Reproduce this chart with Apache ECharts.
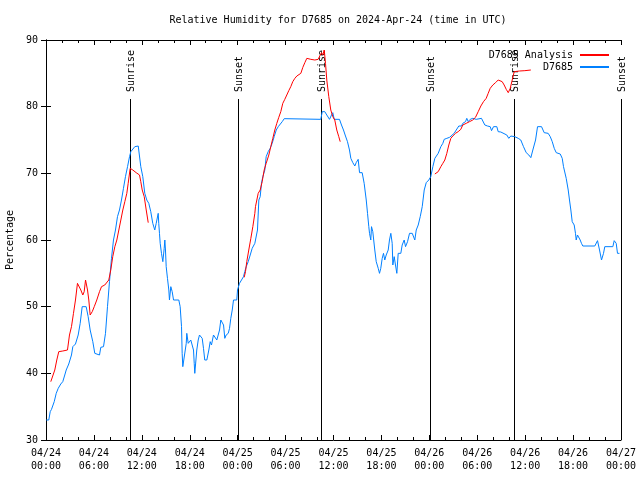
<!DOCTYPE html>
<html>
<head>
<meta charset="utf-8">
<script src="https://cdn.jsdelivr.net/npm/echarts@6/dist/echarts.min.js"></script>
<style>html,body{margin:0;padding:0;background:#fff}#c{width:640px;height:480px}</style>
</head>
<body>
<div id="c"></div>
<script>
// Hours since 2024-04-24 00:00 UTC
const blueHours = [0.03,0.35,0.53,0.69,1.03,1.28,1.53,1.85,2.10,2.35,2.53,2.85,3.19,3.36,3.69,4.03,4.28,4.53,5.03,5.28,5.53,5.86,6.11,6.70,6.86,7.20,7.45,7.70,7.95,8.20,8.45,8.70,8.95,9.20,9.45,9.70,9.95,10.21,10.46,10.62,10.87,11.12,11.55,11.71,11.87,12.12,12.37,12.62,12.87,13.12,13.37,13.62,13.80,14.05,14.12,14.21,14.30,14.46,14.63,14.80,14.88,14.96,15.05,15.21,15.38,15.46,15.63,15.80,15.97,16.63,16.80,16.97,17.05,17.13,17.38,17.56,17.63,17.81,17.97,18.13,18.38,18.47,18.56,18.63,18.72,18.88,19.06,19.22,19.38,19.56,19.72,19.88,20.14,20.39,20.56,20.72,20.97,21.22,21.39,21.56,21.73,21.89,22.06,22.23,22.39,22.56,22.82,22.98,23.14,23.32,23.48,23.89,23.98,24.23,24.48,24.73,24.89,25.07,25.32,25.57,25.82,26.15,26.40,26.48,26.65,26.82,26.98,27.15,27.40,27.57,27.82,28.07,28.32,28.57,28.83,29.08,29.33,29.58,29.83,34.41,34.59,34.91,35.16,35.50,35.75,35.91,36.09,36.75,37.00,37.25,37.50,37.75,38.00,38.17,38.42,38.67,38.84,39.09,39.26,39.59,39.84,40.10,40.26,40.42,40.51,40.67,40.76,40.92,41.17,41.35,41.60,41.76,41.92,42.10,42.26,42.42,42.60,42.85,43.01,43.18,43.35,43.43,43.60,43.76,43.93,44.10,44.43,44.60,44.85,45.02,45.27,45.52,45.86,46.18,46.36,46.61,46.86,47.11,47.36,47.61,47.93,48.18,48.44,48.69,48.94,49.11,49.44,49.69,49.86,50.19,50.53,50.78,51.11,51.37,51.69,52.03,52.19,52.53,52.69,52.87,53.12,53.44,53.87,54.53,54.70,54.95,55.28,55.62,55.79,56.04,56.45,56.62,56.95,57.20,57.70,57.95,58.20,58.45,58.70,59.13,59.45,59.79,60.13,60.46,60.71,60.96,61.30,61.55,62.05,62.38,62.88,63.14,63.39,63.64,63.89,64.39,64.64,64.80,65.14,65.39,65.55,65.72,65.89,66.14,66.30,66.39,66.55,66.72,66.89,67.05,67.22,68.72,69.06,69.31,69.56,69.81,69.97,70.98,71.15,71.40,71.56,71.81];
const blueRH = [33,33,34.25,34.6,35.75,37,37.75,38.4,38.75,39.75,40.5,41.4,42.75,44,44.4,45.75,47.5,50,50,48.5,46.5,44.75,43,42.75,43.9,44,46,50,53.75,57.25,60,61.5,63.5,64.5,66,67.75,69.5,71,72.5,73.25,73.4,74,74.1,74.35,71,69.5,67,66,65.5,64.25,62.5,61.5,62.5,64,62.5,61,59.5,58,56.75,58.75,60,58.5,56,54.25,52.5,51,53,52.25,51,51,50,47,43,41,41,44.5,46,44.5,44.75,45,45,43.5,41.5,40,41.25,43.5,45,45.75,46,45.25,43.75,42,42,43.5,44.75,44.25,45.75,45.5,45,45.25,46.5,48,47.75,47.25,45.25,45.75,46,46.75,48.25,49.5,51,51,52.5,53.5,54,54.5,55.25,56,56.75,57.75,58.75,59.5,59.75,61.5,66,66.5,68.5,69.5,70.5,72.5,73.25,73.75,74.5,75.5,76.5,77,77.25,77.75,78.2,78.1,79.25,79.25,78.75,78.1,78.75,79.1,78.1,78.1,77.25,76.5,75.6,74.75,73.5,72.25,71.6,71.1,71.6,72.1,70.1,70.1,68.5,66,64,62,61,60,62,61.25,58.5,56.75,55.75,55,55.75,57.25,58,57,57.75,58.5,60,61,59.5,56.25,57.5,56.25,55,58,58,59.25,60,59,59.75,61,61,60,61.5,62.25,63.5,65,67.5,68.6,69,69.5,71,72.25,72.25,73,74,74.5,75.1,75.25,75.4,75.6,76,76.5,77.1,77.1,77.5,77.75,78.25,77.75,78.1,78.25,78.1,78.25,78.1,77.25,77.1,77,76.4,77,77,76.25,76.2,76,75.75,75.25,75.6,75.75,75.5,75.25,75,74,73.1,72.75,72.35,73.5,75,77,77,76.1,76,75.5,74.75,73.75,73.1,72.9,72.25,71,69.25,67.5,66,64.5,62.75,62.25,61,60,60.75,61,60,59.5,59.1,59.1,59.9,58.5,57,58,59,59,59.9,59.5,58,58];
// Analysis series (null = gap)
const redHours = [0.60,0.85,1.10,1.35,1.60,2.10,2.69,2.94,3.19,3.44,3.69,3.94,4.11,4.36,4.61,4.78,4.95,5.20,5.36,5.53,5.79,6.04,6.36,6.70,6.95,7.36,7.86,8.11,8.36,8.62,8.87,9.12,9.37,9.62,9.87,10.12,10.29,10.54,10.87,11.29,11.71,11.87,12.05,12.30,12.55,12.80,18.0,
  24.82,24.98,25.14,25.39,25.65,25.90,26.15,26.23,26.57,26.82,27.07,27.32,27.57,27.90,28.15,28.40,28.65,28.90,29.15,29.40,29.65,29.90,30.15,30.40,30.65,30.90,31.16,31.41,31.66,31.91,32.16,32.41,32.66,33.16,33.66,34.08,34.34,34.50,34.66,34.84,35.00,35.16,35.41,35.66,35.91,36.16,36.41,36.66,36.84,42.0,
  48.69,49.11,49.44,49.69,49.94,50.19,50.44,50.69,50.94,51.28,51.61,51.94,52.19,52.62,53.03,53.44,53.78,54.12,54.45,54.78,55.12,55.37,55.62,55.95,56.29,56.62,56.87,57.12,57.37,57.63,57.88,58.13,58.38,58.63,58.88,59.29,59.96,60.71];
const redRH = [38.75,39,40.5,42,43.25,43.35,43.5,45.75,47,49,51,53.5,53.25,52.5,51.75,52.25,54,52.5,51,48.75,49.25,50,51,52.25,53,53.25,54,55.5,57.5,59,60,61.5,63,64.5,65.75,67,68.5,70.75,70.5,70.1,69.75,68.75,67.5,66.5,64.5,62.6,null,
  54.4,55.25,56.75,58.5,60.25,62,64,65,67,67.5,68.75,70.5,71.5,72.75,74,75.25,76.5,77.5,78.4,79.25,80.5,81.1,81.75,82.4,83,83.75,84.25,84.6,84.85,85,85.9,86.6,87.25,87.1,87,87.1,87.75,88.1,87.75,88.5,86.5,84,81.5,79.5,78.5,78,76.5,75.5,74.75,null,
  69.9,70.25,71,71.5,72,73,74.25,75.25,75.6,76,76.25,76.6,77.25,77.5,77.75,78,78.4,79.25,80.1,80.75,81.25,82,82.75,83.25,83.6,84,84.1,83.75,83.25,82.6,82.1,82.75,84,85.25,85.35,85.35,85.4,85.5];
const sunHours = [10.54, 24.0, 34.46, 48.08, 58.62, 72.0];
const sunLabels = ['Sunrise','Sunset','Sunrise','Sunset','Sunrise','Sunset'];
const sunTop = 81.15, sunBottom = 30;
const dayLabels = ['04/24','04/25','04/26','04/27'];
const titleText = 'Relative Humidity for D7685 on 2024-Apr-24 (time in UTC)';

const FONT = '"DejaVu Sans Mono", "Liberation Mono", monospace';
const chart = echarts.init(document.getElementById('c'), null, {renderer:'canvas'});
const pad = n => (n<10?'0':'')+n;
const xFmt = v => dayLabels[Math.floor(v/24)] + '\n' + pad(Math.round(v%24)) + ':00';
const axisCommon = {
  axisLine:{show:true,lineStyle:{color:'#000',width:1}},
  axisTick:{show:true,inside:true,length:5,lineStyle:{color:'#000'}},
  splitLine:{show:false}
};
const legendCommon = {orient:'vertical',align:'right',right:25,itemWidth:29,itemHeight:10,
  itemStyle:{color:'rgba(0,0,0,0)',borderWidth:0,opacity:0},
  textStyle:{fontFamily:FONT,fontSize:10,color:'#000',padding:[0,2,0,0]}};
chart.setOption({
  animation:false,
  backgroundColor:'#fff',
  title:{text:titleText,left:333,textAlign:'center',top:10,textStyle:{fontFamily:FONT,fontSize:10,fontWeight:'normal',color:'#000'}},
  grid:{left:46,right:19,top:40,bottom:40,containLabel:false,outerBoundsMode:'none'},
  legend:[
    Object.assign({data:['D7685 Analysis'],top:45}, legendCommon),
    Object.assign({data:['D7685'],top:57}, legendCommon)
  ],
  xAxis:[
    Object.assign({type:'value',min:0,max:72,interval:6,position:'bottom',
      axisLabel:{formatter:xFmt,fontFamily:FONT,fontSize:10,color:'#000',lineHeight:13,margin:7},
      minorTick:{show:true,splitNumber:3,length:3,lineStyle:{color:'#000'}}}, axisCommon),
    Object.assign({type:'value',min:0,max:72,interval:6,position:'top',
      axisLabel:{show:false},
      minorTick:{show:true,splitNumber:3,length:3,lineStyle:{color:'#000'}}}, axisCommon)
  ],
  yAxis:[
    Object.assign({type:'value',min:30,max:90,interval:10,position:'left',
      name:'Percentage',nameLocation:'middle',nameGap:31,nameRotate:90,
      nameTextStyle:{fontFamily:FONT,fontSize:10,color:'#000'},
      axisLabel:{fontFamily:FONT,fontSize:10,color:'#000',margin:8}}, axisCommon),
    Object.assign({type:'value',min:30,max:90,interval:10,position:'right',
      axisLabel:{show:false}}, axisCommon)
  ],
  series:[
    {type:'custom',name:'sun',xAxisIndex:0,yAxisIndex:0,clip:false,silent:true,z:1,
     data:sunHours.map((h,i)=>[h,sunTop,sunBottom,i]),
     encode:{x:0,y:1},
     renderItem:function(params,api){
       const h=api.value(0), i=api.value(3);
       const top=api.coord([h,api.value(1)]);
       const bot=api.coord([h,api.value(2)]);
       const x=Math.round(top[0])+0.5;
       return {type:'group',children:[
         {type:'line',shape:{x1:x,y1:top[1],x2:x,y2:bot[1]},style:{stroke:'#000',lineWidth:1}},
         {type:'text',x:x+1,y:top[1]-7,rotation:Math.PI/2,
          style:{text:sunLabels[i],fill:'#000',font:'10px '+FONT,align:'left',verticalAlign:'middle'}}
       ]};
     }},
    {type:'line',name:'D7685 Analysis',xAxisIndex:0,yAxisIndex:0,symbol:'none',connectNulls:false,z:3,
     color:'#ff0000',lineStyle:{color:'#ff0000',width:1},
     data:redHours.map((h,i)=>[h,redRH[i]])},
    {type:'line',name:'D7685',xAxisIndex:0,yAxisIndex:0,symbol:'none',z:2,
     color:'#0080ff',lineStyle:{color:'#0080ff',width:1},
     data:blueHours.map((h,i)=>[h,blueRH[i]])}
  ]
});
</script>
</body>
</html>
